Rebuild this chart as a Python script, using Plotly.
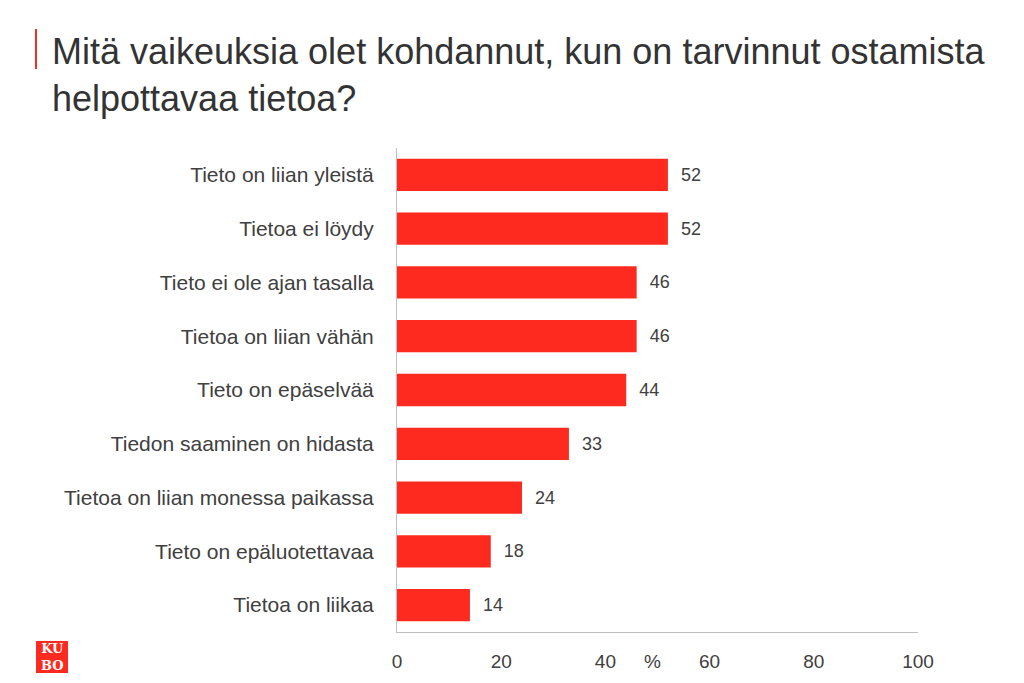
import plotly.graph_objects as go

categories = [
    "Tieto on liian yleistä",
    "Tietoa ei löydy",
    "Tieto ei ole ajan tasalla",
    "Tietoa on liian vähän",
    "Tieto on epäselvää",
    "Tiedon saaminen on hidasta",
    "Tietoa on liian monessa paikassa",
    "Tieto on epäluotettavaa",
    "Tietoa on liikaa",
]
values = [52, 52, 46, 46, 44, 33, 24, 18, 14]
x_ticks = [0, 20, 40, 60, 80, 100]

red = "#FF2A1F"
grey_text = "#404040"

# plot area in screen pixels, used to place the decorations
L, R, T, B = 397, 918, 147, 631


def px(x):
    return (x - L) / (R - L)


def py(y):
    return (B - y) / (B - T)


fig = go.Figure(go.Bar(
    x=values, y=categories, orientation="h",
    marker=dict(color=red, line=dict(width=0)),
    texttemplate="  %{x}", textposition="outside", cliponaxis=False,
    textfont=dict(size=18, color=grey_text),
))

fig.update_layout(
    width=1024, height=683,
    paper_bgcolor="white", plot_bgcolor="white",
    margin=dict(l=389, r=114, t=140, b=59),
    bargap=0.4,
    showlegend=False,
    font=dict(family="Liberation Sans, Arial, sans-serif", color=grey_text),
    xaxis=dict(
        range=[0, 100], tickvals=x_ticks, showgrid=False, zeroline=False,
        showline=True, linecolor="#BFBFBF", linewidth=1,
        ticks="", tickfont=dict(size=19, color=grey_text), ticklabelstandoff=12,
    ),
    yaxis=dict(
        autorange="reversed", showgrid=False, zeroline=False,
        showline=True, linecolor="#BFBFBF", linewidth=1,
        ticks="", tickfont=dict(size=21, color=grey_text), ticklabelstandoff=18,
    ),
    shapes=[
        dict(type="line", xref="paper", yref="paper", x0=px(36), x1=px(36),
             y0=py(28), y1=py(68), line=dict(color=red, width=2)),
        dict(type="rect", xref="paper", yref="paper", x0=px(36), x1=px(68),
             y0=py(672), y1=py(640), fillcolor=red, line=dict(width=0)),
    ],
    annotations=[
        dict(text="Mitä vaikeuksia olet kohdannut, kun on tarvinnut ostamista<br>helpottavaa tietoa?",
             xref="paper", yref="paper", x=px(50), y=py(28),
             xanchor="left", yanchor="top", align="left", showarrow=False,
             font=dict(size=36, color="#333333")),
        dict(text="%", xref="x", yref="paper", x=49, y=py(660),
             xanchor="center", yanchor="middle", showarrow=False,
             font=dict(size=19, color=grey_text)),
        dict(text="<b>KU<br>BO</b>", xref="paper", yref="paper", x=px(52), y=py(656),
             xanchor="center", yanchor="middle", showarrow=False,
             font=dict(size=13, color="white", family="DejaVu Serif"), align="center"),
    ],
)

fig.write_html("out.html")
